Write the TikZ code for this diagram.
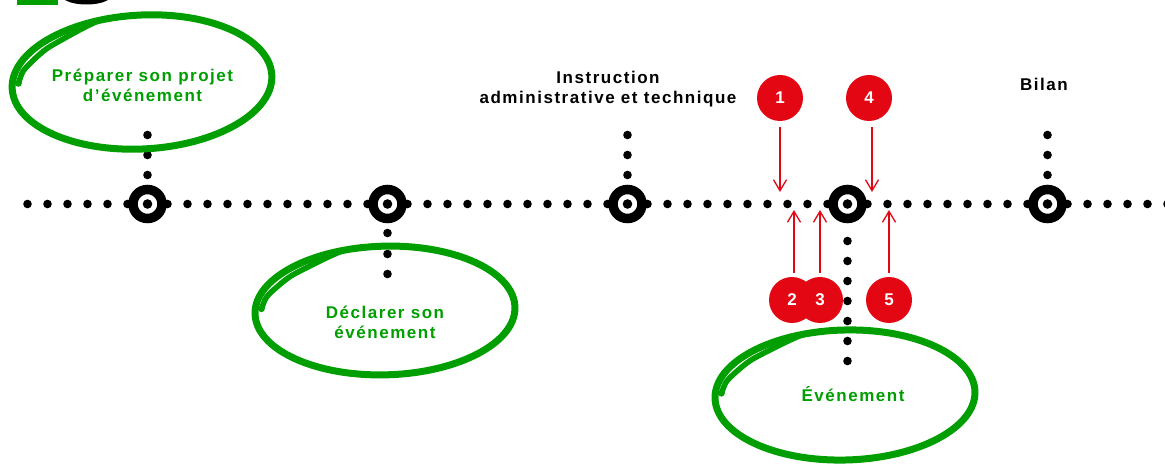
\documentclass[tikz,border=0pt]{standalone}
\usepackage{fontspec}
\setmainfont{Liberation Sans}
\newfontfamily\lblfont{Liberation Sans}[LetterSpace=9]
\usetikzlibrary{arrows.meta}
\definecolor{tlgreen}{RGB}{0,158,0}
\definecolor{tlred}{RGB}{227,6,19}
\tikzset{
  lbl/.style={font=\lblfont\bfseries\fontsize{17}{20}\selectfont, inner sep=0pt},
  milestone/.style={circle, draw=black, fill=white, line width=9.5pt, minimum size=29pt, inner sep=0pt,
    path picture={\fill[black] (path picture bounding box.center) circle (4.8pt);}},
  numc/.style={circle, fill=tlred, minimum size=46pt, inner sep=0pt, text=white,
    font=\lblfont\bfseries\fontsize{17}{20}\selectfont},
  redarrow/.style={draw=tlred, line width=1.3pt, -{Straight Barb[length=11pt,width=13pt]}},
  greenloop/.pic={
    \draw[tlgreen, line width=7pt] (0,0) ellipse [x radius=130pt, y radius=65pt];
    \draw[tlgreen, line width=5.5pt, line cap=round] plot[smooth] coordinates
      {(-123,6) (-118.2,16.5) (-107.6,26.5) (-93.3,37.2) (-72.7,47.5) (-54.2,56) (-40,61.8)};
    \fill[tlgreen] (-123.5,5) circle (3.4pt);
  }
}
\begin{document}
\begin{tikzpicture}[x=1pt,y=1pt]
\useasboundingbox (0,0) rectangle (1165,-465);
% top-left cut-off marks
\fill[tlgreen] (17,0) rectangle (58,-5.5);
\fill[black] (65,0) .. controls (75,-6) and (98,-6) .. (108,0) -- cycle;
% horizontal dotted line
\foreach \k in {0,...,57} {\fill[black] (27.5+20*\k,-204) circle (4.3pt);}
% vertical dots
\foreach \xx in {147.5,627.5,1047.5} {\foreach \yy in {135,155,175} {\fill[black] (\xx,-\yy) circle (4.3pt);}}
\foreach \yy in {233,254,274} {\fill[black] (387.5,-\yy) circle (4.3pt);}
\foreach \yy in {241,261,281,301,321,341,361} {\fill[black] (847.5,-\yy) circle (4.3pt);}
% milestones
\node[milestone] (m1) at (147.5,-204) {};
\node[milestone] (m2) at (387.5,-204) {};
\node[milestone] (m3) at (627.5,-204) {};
\node[milestone] (m4) at (847.5,-204) {};
\node[milestone] (m5) at (1047.5,-204) {};
% green loops
\pic[rotate=3, yscale=1.03] at (142,-82) {greenloop};
\pic[rotate=1.5, yscale=0.99] at (385,-310.5) {greenloop};
\pic[rotate=1.5] at (845,-395) {greenloop};
% labels
\node[lbl, text=tlgreen, anchor=base] (l1) at (142.5,-101.7) {\begin{tabular}[b]{@{}c@{}}Préparer son projet\\d’événement\end{tabular}};
\node[lbl, text=tlgreen, anchor=base] (l2) at (385,-338.5) {\begin{tabular}[b]{@{}c@{}}Déclarer son\\événement\end{tabular}};
\node[lbl, text=tlgreen, anchor=base] (l3) at (853,-401) {Événement};
\node[lbl, text=black, anchor=base] (l4) at (608,-103.3) {\begin{tabular}[b]{@{}c@{}}Instruction\\administrative et technique\end{tabular}};
\node[lbl, text=black, anchor=base] (l5) at (1044,-90.7) {Bilan};
% red numbered circles
\node[numc] (n1) at (780,-98) {1};
\node[numc] (n4) at (869,-98) {4};
\node[numc] (n2) at (792,-300) {2};
\node[numc] (n3) at (820,-300) {3};
\node[numc] (n5) at (889,-300) {5};
% arrow tips
\coordinate (a1) at (780,-192);
\coordinate (a4) at (872,-192);
\coordinate (a2) at (794,-210);
\coordinate (a3) at (820,-210);
\coordinate (a5) at (889,-210);
\draw[redarrow, shorten <=6pt] (n1.south) -- (a1);
\draw[redarrow, shorten <=6pt] (n4.south -| a4) -- (a4);
\draw[redarrow, shorten <=4pt] (n2.north -| a2) -- (a2);
\draw[redarrow, shorten <=4pt] (n3.north) -- (a3);
\draw[redarrow, shorten <=4pt] (n5.north) -- (a5);
\end{tikzpicture}
\end{document}
